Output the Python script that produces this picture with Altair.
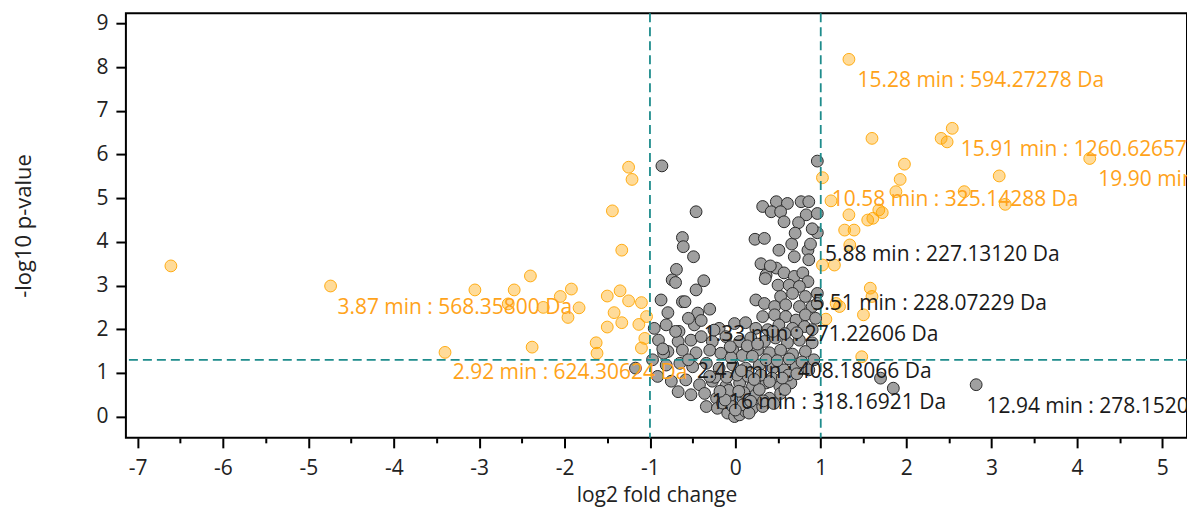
import altair as alt
import pandas as pd

# ---- data ----
orange_x = [-6.61, -4.74, -3.40, -3.05, -2.59, -2.40, -2.66, -2.38, -2.25, -2.05,
            -1.92, -1.83, -1.96, -1.63, -1.62, -1.50, -1.50, -1.44, -1.42, -1.35,
            -1.33, -1.33, -1.25, -1.21, -1.25, -1.13, -1.10, -1.04, -1.06, -1.10,
            1.33, 1.60, 2.54, 2.41, 2.48, 4.15, 1.98, 1.02, 1.93, 3.09,
            1.88, 2.68, 3.16, 1.12, 1.68, 1.72, 1.33, 1.61, 1.55, 1.28,
            1.39, 1.34, 1.02, 1.16, 1.58, 1.60, 1.18, 1.22, 1.50, 1.06, 1.48]
orange_y = [3.45, 2.99, 1.47, 2.90, 2.90, 3.22, 2.58, 1.59, 2.50, 2.75,
            2.92, 2.49, 2.27, 1.69, 1.45, 2.76, 2.05, 4.71, 2.38, 2.88,
            3.81, 2.15, 5.71, 5.43, 2.65, 2.11, 2.61, 2.29, 1.79, 1.57,
            8.18, 6.37, 6.60, 6.37, 6.29, 5.91, 5.78, 5.47, 5.43, 5.51,
            5.15, 5.15, 4.86, 4.94, 4.73, 4.67, 4.62, 4.54, 4.50, 4.27,
            4.27, 3.93, 3.47, 3.47, 2.94, 2.75, 2.59, 2.52, 2.33, 2.23, 1.37]

gray_x = [-0.86, 0.96, 0.32, 0.48, 0.61, 0.77, 0.86, 0.42, 0.53, 0.83,
          0.96, 0.57, -0.46, 0.96, 0.23, 0.34, -0.62, -0.61, -0.49, 0.51,
          0.69, 0.85, 0.86, -0.69, -0.74, -0.70, -0.37, 0.36, 0.35, 0.48,
          0.57, 0.69, 0.79, 0.85, 0.50, 0.63, 0.75, 0.53, 0.67, 0.82,
          0.96, 0.24, 0.34, 0.46, 0.59, 0.75, 0.90, 0.96, -0.62, -0.79,
          -0.44, -0.30, 0.32, 0.46, 0.59, 0.71, 0.82, 0.94, -0.81, -0.66,
          -0.48, -0.19, -0.01, 0.12, 0.24, 0.38, 0.51, 0.67, 0.81, 0.90,
          -0.95, -0.90, -0.67, -0.52, -0.40, -0.27, -0.11, 0.05, 0.18, 0.34,
          0.47, 0.61, 0.75, 0.90, -0.79, -0.62, -0.46, -0.30, -0.17, -0.03,
          0.12, 0.26, 0.40, 0.53, 0.67, 0.82, -0.97, -0.81, -0.65, -0.50,
          -0.34, -0.19, -0.03, 0.12, 0.28, 0.44, 0.57, 0.71, 0.86, -1.17,
          -0.91, -0.75, -0.58, -0.42, -0.27, -0.11, 0.05, 0.20, 0.36, 0.52,
          0.65, -0.67, -0.52, -0.36, -0.22, -0.07, 0.09, 0.24, 0.40, 0.53,
          -0.34, -0.21, -0.09, -0.01, 0.05, 0.12, 0.20, 0.32, -0.15, -0.03,
          0.09, -0.87, -0.59, -0.46, 1.70, 1.85, 2.82, 0.74, 0.66, 0.90,
          0.15, 0.02, -0.08, 0.30, 0.43, -0.24, 0.10, 0.18, -0.12, 0.28,
          0.62, 0.72, 0.40, 0.55, -0.55, -0.84, 0.08, -0.05, 0.14, 0.26,
          0.00, 0.16, 0.33, -0.18, -0.30, 0.45, 0.58, 0.04, -0.10, 0.22,
          0.36, 0.49, 0.63, 0.78, 0.92, 0.44, 0.58, 0.72, 0.30, 0.41,
          -0.70, -0.55, -0.40, -0.25, -0.85, 0.07, 0.20, -0.06, 0.88, 0.70]
gray_y = [5.74, 5.85, 4.81, 4.92, 4.88, 4.92, 4.92, 4.69, 4.69, 4.62,
          4.65, 4.46, 4.69, 4.21, 4.06, 4.08, 4.10, 3.89, 3.66, 3.81,
          3.66, 3.81, 3.59, 3.37, 3.13, 3.07, 3.11, 3.24, 3.16, 3.40,
          3.29, 3.21, 3.29, 3.09, 3.01, 3.01, 2.98, 2.75, 2.82, 2.75,
          2.82, 2.67, 2.59, 2.52, 2.56, 2.52, 2.52, 2.59, 2.63, 2.38,
          2.37, 2.46, 2.29, 2.33, 2.29, 2.21, 2.33, 2.25, 2.10, 1.95,
          2.10, 2.02, 2.13, 2.15, 2.02, 1.99, 2.10, 2.02, 2.06, 1.99,
          2.02, 1.75, 1.72, 1.75, 1.83, 1.72, 1.83, 1.72, 1.80, 1.72,
          1.80, 1.69, 1.75, 1.69, 1.49, 1.52, 1.46, 1.52, 1.45, 1.52,
          1.46, 1.52, 1.46, 1.52, 1.43, 1.49, 1.30, 1.18, 1.22, 1.14,
          1.22, 1.11, 1.18, 1.11, 1.18, 1.11, 1.07, 1.14, 1.07, 1.11,
          0.92, 0.81, 0.84, 0.73, 0.81, 0.70, 0.77, 0.69, 0.77, 0.70,
          0.77, 0.57, 0.50, 0.53, 0.42, 0.46, 0.42, 0.50, 0.42, 0.53,
          0.23, 0.19, 0.08, 0.00, 0.04, 0.12, 0.19, 0.23, 0.31, 0.23,
          0.27, 2.67, 2.63, 2.90, 0.88, 0.65, 0.73, 4.44, 3.95, 4.30,
          0.92, 0.95, 0.60, 0.95, 0.88, 0.90, 0.55, 0.35, 0.38, 0.62,
          0.95, 0.98, 0.80, 0.88, 1.30, 1.45, 1.40, 1.35, 1.62, 1.66,
          0.15, 0.08, 0.36, 0.58, 0.92, 0.30, 0.62, 0.58, 0.90, 0.85,
          1.30, 1.28, 1.32, 1.25, 1.30, 1.95, 1.90, 1.92, 3.50, 3.45,
          1.95, 2.25, 2.20, 1.98, 1.55, 1.05, 1.38, 1.60, 3.95, 4.20]

label_text = ["15.28 min : 594.27278 Da", "15.91 min : 1260.62657 Da",
              "19.90 min : 1115.55430 Da", "10.58 min : 325.14288 Da",
              "3.87 min : 568.35800 Da", "2.92 min : 624.30624 Da",
              "5.88 min : 227.13120 Da", "5.51 min : 228.07229 Da",
              "1.33 min : 271.22606 Da", "2.47 min : 408.18066 Da",
              "1.16 min : 318.16921 Da", "12.94 min : 278.15200 Da"]
label_x = [1.43, 2.64, 4.25, 1.13, -4.66, -3.31, 1.05, 0.90, -0.37, -0.45, -0.28, 2.94]
label_y = [7.69, 6.10, 5.41, 4.96, 2.48, 0.99, 3.70, 2.58, 1.87, 1.03, 0.31, 0.23]
label_group = ["up", "up", "up", "up", "up", "up", "ns", "ns", "ns", "ns", "ns", "ns"]

x_threshold = [-1, 1]
y_threshold = [1.3]

x_ticks = [v / 4 for v in range(-28, 22)]
y_ticks = [v / 2 for v in range(0, 19)]

FONT = "Open Sans"
ORANGE = "#FFA31A"
TEAL = "#1E8C8C"

orange_df = pd.DataFrame({"x": orange_x, "y": orange_y})
gray_df = pd.DataFrame({"x": gray_x, "y": gray_y})
lab_df = pd.DataFrame({"x": label_x, "y": label_y, "t": label_text, "g": label_group})
vx_df = pd.DataFrame({"x": x_threshold})
hy_df = pd.DataFrame({"y": y_threshold})

xscale = alt.Scale(domain=[-7.137, 5.289], nice=False, zero=False)
yscale = alt.Scale(domain=[-0.487, 9.236], nice=False, zero=False)

xaxis = alt.Axis(
    title="log2 fold change", values=x_ticks,
    labelExpr="datum.value % 1 === 0 ? '' + datum.value : ''",
    tickSize={"condition": {"test": "datum.value % 1 === 0", "value": 10}, "value": 5},
    tickWidth=2, tickColor="black", domain=False, grid=False,
    labelFont=FONT, labelFontSize=21, labelColor="#222", labelPadding=10,
    titleFont=FONT, titleFontSize=21, titleFontWeight="normal", titleColor="#222",
    titlePadding=6, labelFlush=False)
yaxis = alt.Axis(
    title="-log10 p-value", values=y_ticks,
    labelExpr="datum.value % 1 === 0 ? '' + datum.value : ''",
    tickSize={"condition": {"test": "datum.value % 1 === 0", "value": 10}, "value": 6},
    tickWidth=2, tickColor="black", domain=False, grid=False,
    labelFont=FONT, labelFontSize=21, labelColor="#222", labelPadding=8,
    titleFont=FONT, titleFontSize=22, titleFontWeight="normal", titleColor="#222",
    titlePadding=60, labelFlush=False)

base_x = alt.X("x:Q", scale=xscale, axis=xaxis)
base_y = alt.Y("y:Q", scale=yscale, axis=yaxis)

orange_pts = alt.Chart(orange_df).mark_circle(
    size=140, color="#FFA500", fillOpacity=0.4, stroke="#FFA500",
    strokeWidth=1, strokeOpacity=0.9, clip=True
).encode(x=base_x, y=base_y)

gray_pts = alt.Chart(gray_df).mark_circle(
    size=140, color="#A0A0A0", opacity=1, stroke="#2a2a2a", strokeWidth=1, clip=True
).encode(x=alt.X("x:Q", scale=xscale), y=alt.Y("y:Q", scale=yscale))

vlines = alt.Chart(vx_df).mark_rule(
    color=TEAL, strokeWidth=1.8, strokeDash=[9, 5]
).encode(x=alt.X("x:Q", scale=xscale))

hline = alt.Chart(hy_df).mark_rule(
    color=TEAL, strokeWidth=1.8, strokeDash=[9, 5]
).encode(y=alt.Y("y:Q", scale=yscale))

labels = alt.Chart(lab_df).mark_text(
    align="left", baseline="middle", font=FONT, fontSize=21, clip=True
).encode(
    x=alt.X("x:Q", scale=xscale), y=alt.Y("y:Q", scale=yscale), text="t:N",
    color=alt.Color("g:N", scale=alt.Scale(domain=["up", "ns"], range=[ORANGE, "#1a1a1a"]),
                    legend=None))

chart = alt.layer(orange_pts, gray_pts, vlines, hline, labels).properties(
    width=1062, height=425,
    autosize=alt.AutoSizeParams(type="none"),
    padding={"left": 118, "top": 5, "right": 0, "bottom": 72},
).configure_view(stroke="black", strokeWidth=2)

chart.save("out.html", embed_options={"renderer": "svg", "actions": False})
